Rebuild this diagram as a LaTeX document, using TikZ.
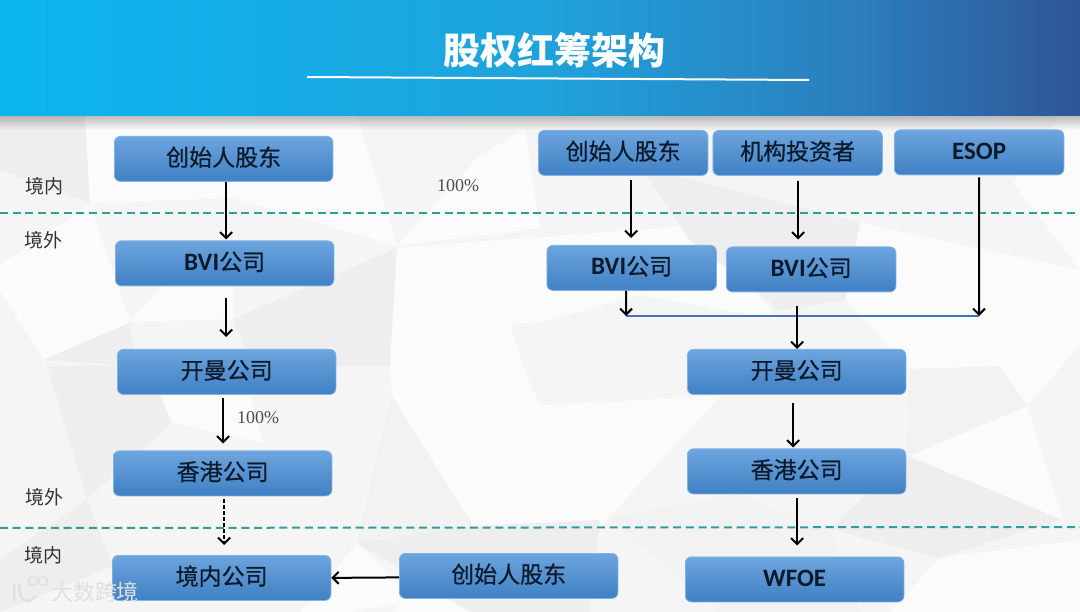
\documentclass[tikz,border=0pt]{standalone}
\usepackage{fontspec}
\setmainfont{Carlito}
\newfontfamily\cjk{Noto Sans CJK SC}
\newfontfamily\cjkmid[FakeBold=0.6]{Noto Sans CJK SC}
\newfontfamily\numfont{Liberation Serif}
\usetikzlibrary{arrows.meta}
\definecolor{boxTop}{HTML}{6DA5DE}
\definecolor{boxMid}{HTML}{5598DA}
\definecolor{boxBot}{HTML}{4080C4}
\definecolor{boxLine}{HTML}{7FB2E5}
\definecolor{boxText}{HTML}{0C1A2B}
\definecolor{dashTeal}{HTML}{2E9E9A}
\definecolor{barBlue}{HTML}{4472C4}
\definecolor{polyA}{HTML}{EEEEEE}
\definecolor{polyB}{HTML}{F2F2F2}
\definecolor{polyW}{HTML}{FBFBFB}
\definecolor{headA}{HTML}{0BB5F0}
\definecolor{headB}{HTML}{1FA3DC}
\definecolor{headC}{HTML}{2C7DBC}
\definecolor{headD}{HTML}{2F5597}
\pgfdeclarehorizontalshading{headShade}{100bp}{
	color(0bp)=(headA); color(25bp)=(headA); color(50bp)=(headB);
	color(65bp)=(headC); color(75bp)=(headD); color(100bp)=(headD)}
\tikzset{
	corpbox/.style={draw=boxLine, line width=0.8pt, rounded corners=6pt, top color=boxTop, middle color=boxMid, bottom color=boxBot,
		text=boxText, minimum height=45pt, anchor=north west, inner sep=0pt, text height=17pt, text depth=3pt,
		font=\fontsize{25}{28}\selectfont\bfseries},
	widebox/.style={corpbox, minimum width=218.5pt},
	narrowbox/.style={corpbox, minimum width=169.5pt},
	arr/.style={-{Straight Barb[length=6pt,width=12pt]}, line width=2pt, black},
	sideLabel/.style={font=\fontsize{19}{22}\selectfont\cjk, text=black!80},
	pctLabel/.style={font=\fontsize{18}{20}\selectfont\numfont, text=black!70},
	border/.style={dashTeal, line width=2pt, dash pattern=on 8pt off 4.7pt},
}
\newcommand{\cn}[1]{{\cjkmid\mdseries\fontsize{23}{26}\selectfont #1}}
\begin{document}
\begin{tikzpicture}[x=1pt,y=-1pt]
	\useasboundingbox (0,0) rectangle (1080,612);
	\fill[black!4] (0,0) rectangle (1080,612);

	% background facets
	\fill[polyA] (0,116) -- (85,116) -- (90,203) -- (0,170) -- cycle;
	\fill[polyW] (85,116) -- (357,116) -- (397,246) -- (233,198) -- (90,203) -- cycle;
	\fill[polyW] (480,155) -- (525,130) -- (540,228) -- (397,246) -- cycle;
	\fill[polyW] (0,265) -- (90,205) -- (130,322) -- (43,360) -- (0,290) -- cycle;
	\fill[polyW] (165,283) -- (130,322) -- (233,319) -- (233,283) -- cycle;
	\fill[polyA] (128,324) -- (43,360) -- (140,366) -- cycle;
	\fill[polyA] (233,319) -- (397,248) -- (390,366) -- (253,366) -- cycle;
	\fill[polyW] (397,248) -- (700,225) -- (780,320) -- (640,295) -- (540,322) -- (510,324) -- (523,366) -- (390,366) -- cycle;
	\fill[polyA] (640,166) -- (860,223) -- (846,300) -- (780,310) -- (690,240) -- cycle;
	\fill[polyW] (860,223) -- (1080,270) -- (1080,345) -- (1027,406) -- (910,369) -- (846,300) -- cycle;
	\fill[polyW] (1013,183) -- (1060,116) -- (1080,116) -- (1080,270) -- cycle;
	\fill[polyW] (540,405) -- (720,396) -- (608,518) -- (540,612) -- (392,612) -- (473,526) -- (392,396) -- cycle;
	\fill[polyW] (392,396) -- (540,406) -- (523,366) -- (390,366) -- cycle;
	\fill[polyB] (392,396) -- (473,526) -- (357,543) -- cycle;
	\fill[polyA] (357,543) -- (473,526) -- (600,520) -- (590,612) -- (470,612) -- cycle;
	\fill[polyW] (357,543) -- (415,600) -- (350,612) -- (300,612) -- cycle;
	\fill[polyA] (47,366) -- (157,366) -- (172,423) -- (87,499) -- cycle;
	\fill[polyW] (160,394) -- (250,394) -- (263,443) -- (172,423) -- cycle;
	\fill[polyA] (87,499) -- (113,566) -- (0,612) -- (0,560) -- cycle;
	\fill[polyA] (907,456) -- (1063,519) -- (940,558) -- (830,529) -- cycle;
	\fill[polyB] (608,518) -- (737,494) -- (830,530) -- (860,612) -- (720,612) -- cycle;
	\fill[polyW] (910,456) -- (1027,406) -- (1063,520) -- cycle;
	\fill[polyW] (940,558) -- (1080,540) -- (1080,612) -- (890,612) -- cycle;
	\fill[polyB] (910,369) -- (1000,366) -- (1027,406) -- (907,456) -- cycle;

	% header band
	\foreach \i in {0,...,13}
		\fill[black, opacity={0.24*(1-\i/14)}] (0,116+\i) rectangle (1080,117+\i);
	\shade[shading=headShade] (0,0) rectangle (1080,116);
	\node[text=white, font=\fontsize{37}{42}\selectfont\cjk\bfseries] (title) at (554,50) {股权红筹架构};
	\coordinate (ruleL) at (307,77);
	\coordinate (ruleR) at (809,80);
	\draw[white, line width=2pt] (ruleL) -- (ruleR);

	% borders
	\coordinate (borderAL) at (0,213.5);
	\coordinate (borderAR) at (1080,213.5);
	\coordinate (borderBL) at (0,528);
	\coordinate (borderBR) at (1080,527);
	\draw[border] (borderAL) -- (borderAR);
	\draw[border] (borderBL) -- (borderBR);

	% left column
	\node[widebox] (fdrA) at (114,136) {\cn{创始人股东}};
	\node[widebox] (bviA) at (115,240.5) {BVI\cn{公司}};
	\node[widebox] (caymanA) at (117,349) {\cn{开曼公司}};
	\node[widebox] (hkA) at (113,450.5) {\cn{香港公司}};
	\node[widebox] (onshoreA) at (112,555) {\cn{境内公司}};
	\node[widebox] (fdrB) at (399,553) {\cn{创始人股东}};

	% right column
	\node[narrowbox] (fdrC) at (538,130) {\cn{创始人股东}};
	\node[narrowbox] (instC) at (712.5,130) {\cn{机构投资者}};
	\node[narrowbox] (esopC) at (894,129.5) {ESOP};
	\node[narrowbox] (bviC) at (546.5,245) {BVI\cn{公司}};
	\node[narrowbox] (bviD) at (726,246.5) {BVI\cn{公司}};
	\node[widebox] (caymanC) at (687,349) {\cn{开曼公司}};
	\node[widebox] (hkC) at (687,448.5) {\cn{香港公司}};
	\node[widebox] (wfoeC) at (685,556.5) {WFOE};

	% labels
	\node[sideLabel] (inA) at (44,186) {境内};
	\node[sideLabel] (outA) at (43,240) {境外};
	\node[sideLabel] (outB) at (44,497) {境外};
	\node[sideLabel] (inB) at (43,555) {境内};
	\node[pctLabel] (pctA) at (458,185.5) {100\%};
	\node[pctLabel] (pctB) at (258,418) {100\%};

	% watermark
	\node[font=\fontsize{22}{24}\selectfont\cjk, text=black!12] (mark) at (95,592) {大数跨境};
	\draw[black!12, line width=2.5pt] (14,583) -- (14,601) (20,584) .. controls (17,600) and (28,606) .. (36,596);
	\draw[black!12, line width=1.5pt] (33,581) circle (4.5pt) (43,581) circle (4.5pt);

	% left arrows
	\draw[arr] ([xshift=2.5]fdrA.south) -- ([xshift=1.5,yshift=1]bviA.north);
	\draw[arr] ([xshift=1.5,yshift=-12]bviA.south) -- ([xshift=-0.5,yshift=12]caymanA.north);
	\draw[arr] ([xshift=-3.5,yshift=-3]caymanA.south) -- ([xshift=0.5,yshift=7]hkA.north);
	\draw[arr, dash pattern=on 4pt off 2pt] ([xshift=1.5,yshift=-3]hkA.south) -- ([xshift=2.5,yshift=10]onshoreA.north);
	\draw[arr] ([yshift=-1.5]fdrB.west) -- ([yshift=0]onshoreA.east);

	% right arrows
	\coordinate (barL) at (626,316);
	\coordinate (barR) at (979,316);
	\draw[barBlue, line width=2pt] (barL) -- (barR);
	\draw[arr] ([xshift=8,yshift=-4]fdrC.south) -- ([xshift=-0.5,yshift=7]bviC.north);
	\draw[arr] ([xshift=0.5,yshift=-5]instC.south) -- ([xshift=-13,yshift=7]bviD.north);
	\draw[arr] ([yshift=-2]esopC.south) -- (barR);
	\draw[arr] ([xshift=-5.5]bviC.south) -- (barL);
	\draw[arr] ([xshift=-14,yshift=-14]bviD.south) -- ([xshift=0.5]caymanC.north);
	\draw[arr] ([xshift=-3.5,yshift=-8]caymanC.south) -- ([xshift=-3.5,yshift=1]hkC.north);
	\draw[arr] ([xshift=0.5,yshift=-4]hkC.south) -- ([xshift=2.5,yshift=11]wfoeC.north);
\end{tikzpicture}
\end{document}
